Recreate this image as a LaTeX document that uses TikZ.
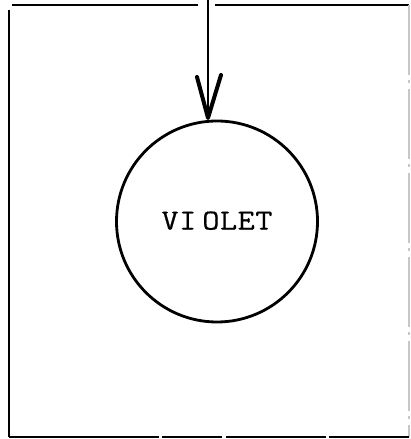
\documentclass[tikz,border=0pt]{standalone}
\usepackage{fontspec}
\usetikzlibrary{calc}
\newfontfamily\tw[FakeStretch=1.15,FakeBold=0.6]{Latin Modern Mono}
\begin{document}
\begin{tikzpicture}[x=1pt,y=1pt,
  frameline/.style={line width=1.7pt,black},
  faintline/.style={line width=1.2pt,black!22,dash pattern=on 70pt off 5pt on 3pt off 6pt},
  bottomline/.style={line width=1.7pt,black,dash pattern=on 150pt off 3pt on 60pt off 4pt on 100pt off 3pt},
  state/.style={circle,draw,line width=2.8pt,minimum size=201pt,inner sep=0pt,font=\tw\fontsize{29}{29}\selectfont},
  shaft/.style={line width=2.2pt,line cap=round},
  barb/.style={line width=4pt,line cap=round,line join=round}]
\useasboundingbox (0,0) rectangle (411,439);
% frame
\coordinate (tl) at (9,434);
\coordinate (tr) at (409,434);
\coordinate (bl) at (9,2);
\coordinate (br) at (409,2);
\coordinate (gapl) at (198,434);
\coordinate (gapr) at (215,434);
\draw[frameline] (9,429) -- (bl);
\draw[frameline] (12,434) -- (gapl);
\draw[frameline] (gapr) -- (tr);
\draw[faintline] (tr) -- (br);
\draw[bottomline] (bl) -- (br);
% state
\node[state] (v) at (217,217.5) {\raisebox{2pt}{V\kern0.5pt I\kern6pt O\kern0.5pt L\kern0.5pt E\kern0.5pt T}};
% arrow
\coordinate (src) at (208,439);
\coordinate (tip) at (208,321);
\draw[shaft] (src) -- (tip);
\draw[barb] ($(tip)+(-11,41)$) -- (tip) -- ($(tip)+(13,43)$);
\end{tikzpicture}
\end{document}
